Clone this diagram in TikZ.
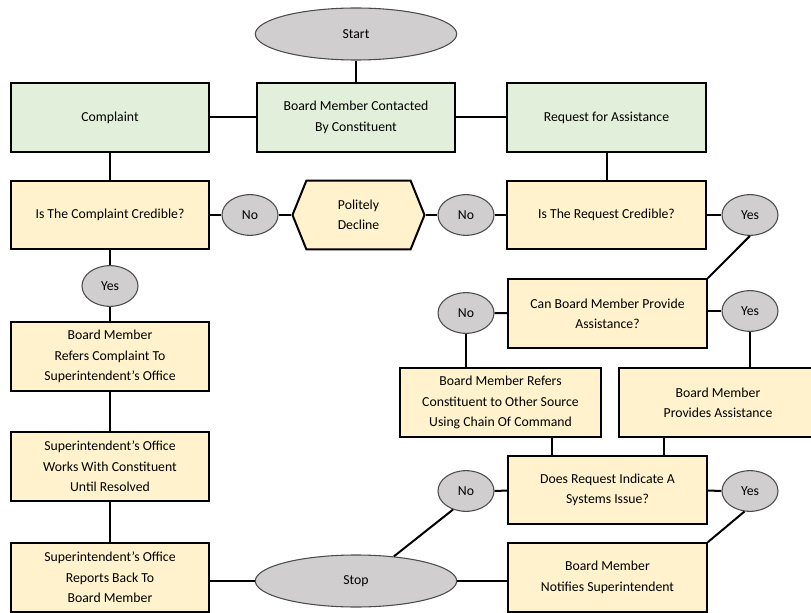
\documentclass[tikz,border=0pt]{standalone}
\usepackage{fontspec}
\setmainfont{Carlito}
\usepackage{xcolor}
\usetikzlibrary{shapes.geometric}
\usetikzlibrary{shapes.symbols}
\definecolor{gruen}{HTML}{E2EFDA}
\definecolor{gelb}{HTML}{FFF2CC}
\definecolor{grau}{HTML}{D0CECE}
\tikzset{
  Feld/.style={draw,line width=1.5pt,minimum width=149pt,minimum height=51.5pt,
    align=center,inner sep=2pt}, % Kasten
  GFeld/.style={Feld,fill=gruen}, % grüner Kasten
  YFeld/.style={Feld,fill=gelb},  % gelber Kasten
  Oval/.style={ellipse,draw=black!70,line width=.8pt,fill=grau,
    minimum width=151pt,minimum height=39pt,inner sep=0pt}, % Start / Stop
  Antwort/.style={Oval,minimum width=42pt,minimum height=30.5pt}, % Ja / Nein
  Linie/.style={line width=1.5pt} % Verbindungen
}

\begin{document}
\begin{tikzpicture}[x=0.75pt,y=-0.75pt,
font=\fontsize{10.3}{15.3}\selectfont
]
\useasboundingbox (0,0) rectangle (811,613);
\clip (0,0) rectangle (811,613);

%Obere Reihe
\node[Oval] (Start) at (356,34) {Start};
\node[GFeld] (Kontakt) at (356,117.5) {Board Member Contacted\\By Constituent};
\node[GFeld] (Beschwerde) at (110,117.5) {Complaint};
\node[GFeld] (Anfrage) at (606.5,117.5) {Request for Assistance};

%Glaubwürdig?
\node[YFeld] (BFrage) at (110,215) {Is The Complaint Credible?};
\node[Antwort] (Nein1) at (250,215) {No};
\node[signal,signal to=west and east,signal pointer angle=136,draw,line width=1.5pt,
  fill=gelb,minimum width=99pt,minimum height=51.5pt,inner sep=1pt,align=center]
  (Ablehnen) at (358.5,215) {Politely\\Decline};
\node[Antwort] (Nein2) at (466,215) {No};
\node[YFeld] (AFrage) at (606.5,215) {Is The Request Credible?};
\node[Antwort] (Ja1) at (750,215) {Yes};

%Linke Spalte
\node[Antwort] (Ja2) at (110,286) {Yes};
\node[YFeld] (Weiter) at (110,356.5) {Board Member\\Refers Complaint To\\Superintendent’s Office};
\node[YFeld] (Arbeit) at (110,466.5) {Superintendent’s Office\\Works With Constituent\\Until Resolved};
\node[YFeld] (Bericht) at (110,577.5) {Superintendent’s Office\\Reports Back To\\Board Member};
\node[Oval] (Stop) at (356,581) {Stop};

%Rechte Seite
\node[YFeld] (Hilfe) at (607.5,313.5) {Can Board Member Provide\\Assistance?};
\node[Antwort] (Nein3) at (466,313) {No};
\node[Antwort] (Ja3) at (750,311) {Yes};
\node[YFeld,minimum width=151pt] (Quelle) at (500.5,402.5) {Board Member Refers\\Constituent to Other Source\\Using Chain Of Command};
\node[YFeld] (Hilft) at (718,402.5) {Board Member\\Provides Assistance};
\node[YFeld] (System) at (607.5,490) {Does Request Indicate A\\Systems Issue?};
\node[Antwort] (Nein4) at (466,491) {No};
\node[Antwort] (Ja4) at (750,491) {Yes};
\node[YFeld] (Melden) at (607.5,577.5) {Board Member\\Notifies Superintendent};

%Verbindungen
\draw[Linie] (Start) -- (Kontakt);
\draw[Linie] (Kontakt) -- (Beschwerde);
\draw[Linie] (Kontakt) -- (Anfrage);
\draw[Linie] (Beschwerde) -- (BFrage);
\draw[Linie] (Anfrage) -- (AFrage);

\draw[Linie] (BFrage) -- (Nein1);
\draw[Linie] (Nein1) -- (Ablehnen.west);
\draw[Linie] (Ablehnen.east) -- (Nein2);
\draw[Linie] (Nein2) -- (AFrage);
\draw[Linie] (AFrage) -- (Ja1);
\draw[Linie] (Ja1.south) -- (Hilfe.north east);

\draw[Linie] (BFrage) -- (Ja2);
\draw[Linie] (Ja2) -- (Weiter);
\draw[Linie] (Weiter) -- (Arbeit);
\draw[Linie] (Arbeit) -- (Bericht);
\draw[Linie] (Stop) -- (Stop -| Bericht.east);

\draw[Linie] (Nein3) -- (Hilfe);
\draw[Linie] (Ja3) -- (Ja3 -| Hilfe.east);
\draw[Linie] (Nein3) -- (Nein3 |- Quelle.north);
\draw[Linie] (Ja3) -- (Ja3 |- Hilft.north);
\draw[Linie] ([xshift=33.75pt]System.north west) -- ([xshift=33.75pt]System.north west |- Quelle.south);
\draw[Linie] ([xshift=-33pt]System.north east) -- ([xshift=-33pt]System.north east |- Hilft.south);

\draw[Linie] (Nein4) -- (System);
\draw[Linie] (Ja4) -- (System);
\draw[Linie] (Nein4.235) -- (Stop.33);
\draw[Linie] (Ja4.255) -- (Melden.north east);
\draw[Linie] (Stop) -- (Stop -| Melden.west);

\end{tikzpicture}
\end{document}
